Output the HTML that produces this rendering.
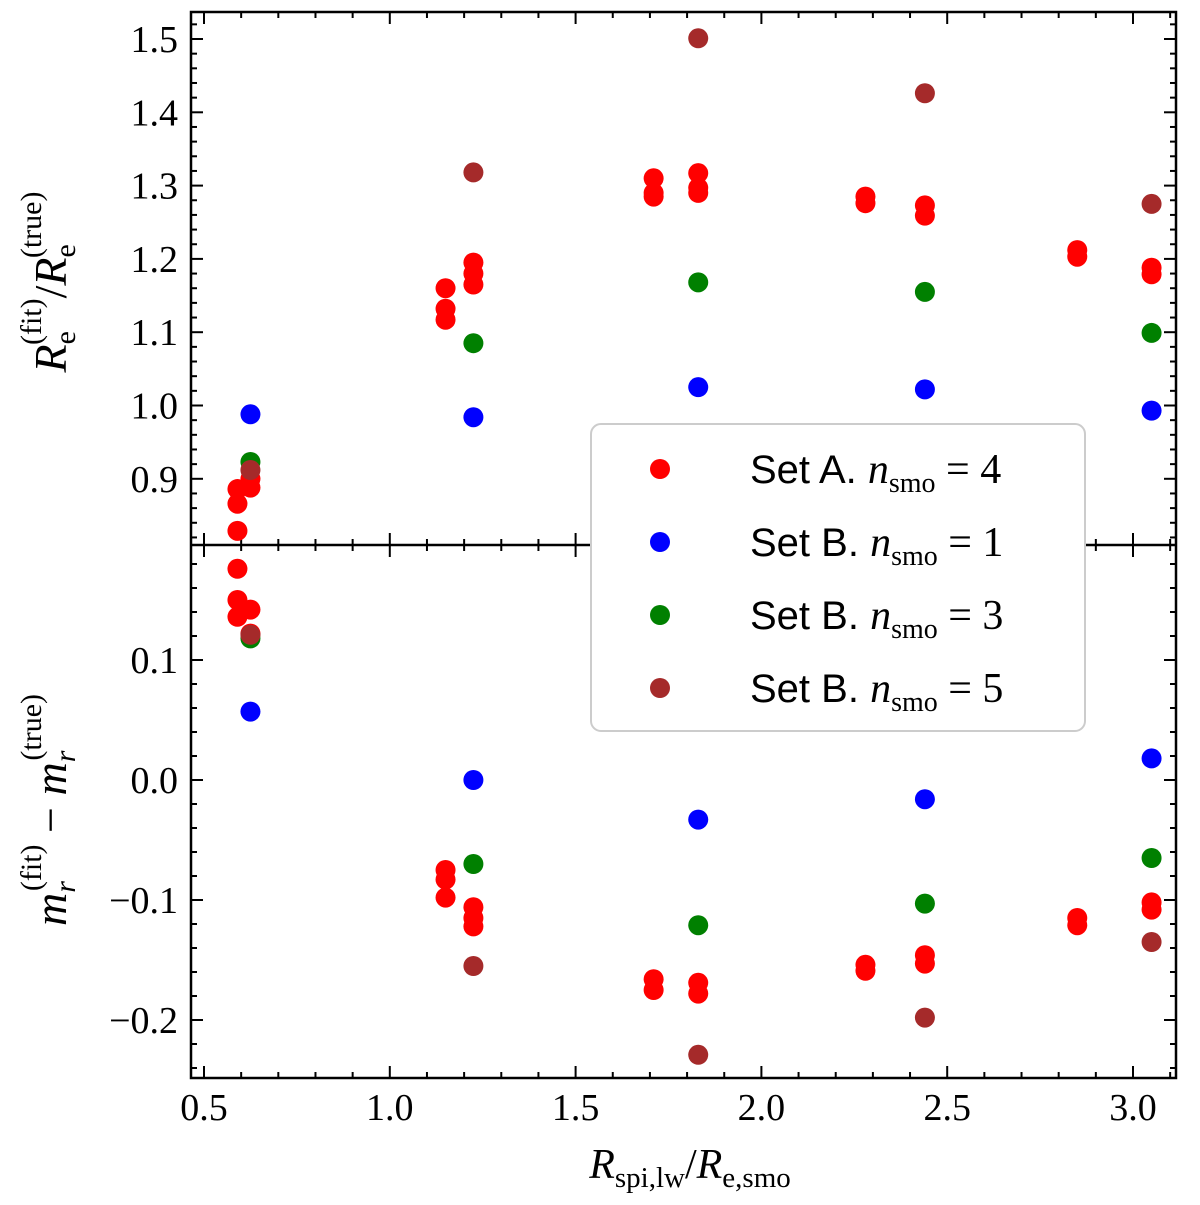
<!DOCTYPE html>
<html><head><meta charset="utf-8"><style>
body{margin:0;background:#fff}
svg text{font-family:"Liberation Serif",serif}
svg text.sans{font-family:"Liberation Sans",sans-serif}
</style></head><body>
<svg width="1200" height="1200" xmlns="http://www.w3.org/2000/svg">
<g id="plot"></g>
<g>
<rect x="591" y="424" width="494" height="307" rx="10" fill="#ffffff" stroke="#ccc" stroke-width="2"/>
<g font-size="40">
<g><circle cx="660" cy="469" r="10" fill="#ff0000"/><text class="sans" x="750" y="483">Set A. <tspan style="font-family:'Liberation Serif',serif" font-style="italic" font-size="42">n</tspan><tspan style="font-family:'Liberation Serif',serif" font-size="28" dy="9">smo</tspan><tspan style="font-family:'Liberation Serif',serif" font-size="42" dy="-9"> = 4</tspan></text></g>
<g><circle cx="660" cy="542" r="10" fill="#0000ff"/><text class="sans" x="750" y="556">Set B. <tspan style="font-family:'Liberation Serif',serif" font-style="italic" font-size="42">n</tspan><tspan style="font-family:'Liberation Serif',serif" font-size="28" dy="9">smo</tspan><tspan style="font-family:'Liberation Serif',serif" font-size="42" dy="-9"> = 1</tspan></text></g>
<g><circle cx="660" cy="615" r="10" fill="#008000"/><text class="sans" x="750" y="629">Set B. <tspan style="font-family:'Liberation Serif',serif" font-style="italic" font-size="42">n</tspan><tspan style="font-family:'Liberation Serif',serif" font-size="28" dy="9">smo</tspan><tspan style="font-family:'Liberation Serif',serif" font-size="42" dy="-9"> = 3</tspan></text></g>
<g><circle cx="660" cy="688" r="10" fill="#a52a2a"/><text class="sans" x="750" y="702">Set B. <tspan style="font-family:'Liberation Serif',serif" font-style="italic" font-size="42">n</tspan><tspan style="font-family:'Liberation Serif',serif" font-size="28" dy="9">smo</tspan><tspan style="font-family:'Liberation Serif',serif" font-size="42" dy="-9"> = 5</tspan></text></g>
</g></g>
<text x="690" y="1178" font-size="42" text-anchor="middle"><tspan font-style="italic">R</tspan><tspan font-size="29" dy="9">spi,lw</tspan><tspan dy="-9">/</tspan><tspan font-style="italic">R</tspan><tspan font-size="29" dy="9">e,smo</tspan></text>
<text transform="translate(66,282) rotate(-90)" font-size="46" text-anchor="middle"><tspan font-style="italic">R</tspan><tspan font-size="30" dy="9">e</tspan><tspan font-size="30" dx="-14" dy="-34">(fit)</tspan><tspan dy="25">/</tspan><tspan font-style="italic">R</tspan><tspan font-size="30" dy="9">e</tspan><tspan font-size="30" dx="-14" dy="-34">(true)</tspan></text>
<text transform="translate(66,810) rotate(-90)" font-size="46" text-anchor="middle"><tspan font-style="italic">m</tspan><tspan font-size="30" font-style="italic" dy="9">r</tspan><tspan font-size="30" dx="-10" dy="-34">(fit)</tspan><tspan dy="25"> − </tspan><tspan font-style="italic">m</tspan><tspan font-size="30" font-style="italic" dy="9">r</tspan><tspan font-size="30" dx="-10" dy="-34">(true)</tspan></text>
</svg>
<script>
const xA=[0.59,0.59,0.59,0.625,0.625,1.15,1.15,1.15,1.225,1.225,1.225,1.71,1.71,1.71,1.83,1.83,1.83,2.28,2.28,2.44,2.44,2.85,2.85,3.05,3.05];
const topA=[0.886,0.866,0.829,0.888,0.9,1.160,1.132,1.117,1.195,1.180,1.165,1.31,1.29,1.285,1.317,1.297,1.29,1.285,1.276,1.273,1.259,1.212,1.203,1.188,1.179];
const xAb=[0.59,0.59,0.59,0.625,0.625,1.15,1.15,1.15,1.225,1.225,1.225,1.71,1.71,1.83,1.83,2.28,2.28,2.44,2.44,2.85,2.85,3.05,3.05];
const botA=[0.176,0.150,0.136,0.142,0.122,-0.075,-0.083,-0.098,-0.106,-0.115,-0.122,-0.166,-0.175,-0.169,-0.178,-0.154,-0.159,-0.146,-0.153,-0.115,-0.121,-0.102,-0.108];
const xB=[0.625,1.225,1.83,2.44,3.05];
const topB1=[0.988,0.984,1.025,1.022,0.993];
const topB3=[0.923,1.085,1.168,1.155,1.099];
const topB5=[0.912,1.318,1.501,1.426,1.275];
const botB1=[0.057,0.0,-0.033,-0.016,0.018];
const botB3=[0.118,-0.070,-0.121,-0.103,-0.065];
const botB5=[0.121,-0.155,-0.229,-0.198,-0.135];
const xTicks=[0.5,1.0,1.5,2.0,2.5,3.0];
const topTicks=[0.9,1.0,1.1,1.2,1.3,1.4,1.5];
const botTicks=[-0.2,-0.1,0.0,0.1];

const NS="http://www.w3.org/2000/svg", svg=document.getElementById('plot');
const L=191,R=1176,T=12,M=545,B=1078,LG0=591,LG1=1085;
const X=v=>204+(v-0.5)*371.6;
const YT=v=>39+(1.5-v)*733;
const YB=v=>780-v*1200;
function el(t,a,p){const e=document.createElementNS(NS,t);for(const k in a)e.setAttribute(k,a[k]);(p||svg).appendChild(e);return e;}
function ln(x1,y1,x2,y2,w){return el('line',{x1,y1,x2,y2,stroke:'#000','stroke-width':w||2});}
for(let v=0.5;v<=3.15;v+=0.1){const x=X(v),maj=Math.abs(v*2-Math.round(v*2))<1e-6,l=maj?12:6;
 ln(x,B,x,B-l);ln(x,T,x,T+l);
 if(x<LG0-2||x>LG1+2){ln(x,M,x,M-l);ln(x,M,x,M+l);}}
for(let v=0.82;v<=1.53;v+=0.02){const y=YT(v),maj=Math.abs(v*10-Math.round(v*10))<1e-6,l=maj?12:6;ln(L,y,L+l,y);ln(R,y,R-l,y);}
for(let v=-0.24;v<=0.19;v+=0.02){const y=YB(v),maj=Math.abs(v*10-Math.round(v*10))<1e-6,l=maj?12:6;ln(L,y,L+l,y);ln(R,y,R-l,y);}
el('rect',{x:L,y:T,width:R-L,height:B-T,fill:'none',stroke:'#000','stroke-width':2.5});
ln(L,M,LG0,M,2.5);ln(LG1,M,R,M,2.5);
xTicks.forEach(v=>{const t=el('text',{x:X(v),y:1120,'font-size':38,'text-anchor':'middle'});t.textContent=v.toFixed(1);

});
topTicks.forEach(v=>{const t=el('text',{x:178,y:YT(v)+13,'font-size':38,'text-anchor':'end'});t.textContent=v.toFixed(1);

});
botTicks.forEach(v=>{const t=el('text',{x:178,y:YB(v)+13,'font-size':38,'text-anchor':'end'});t.textContent=(v<0?'\u2212':'')+Math.abs(v).toFixed(1);

});
function pts(xs,ys,Y,col,name){xs.forEach((x,i)=>{const c=el('circle',{cx:X(x),cy:Y(ys[i]),r:10,fill:col});

});}
pts(xA,topA,YT,'#ff0000','top-set-a-point');
pts(xB,topB1,YT,'#0000ff','top-set-b1-point');
pts(xB,topB3,YT,'#008000','top-set-b3-point');
pts(xB,topB5,YT,'#a52a2a','top-set-b5-point');
pts(xAb,botA,YB,'#ff0000','bottom-set-a-point');
pts(xB,botB1,YB,'#0000ff','bottom-set-b1-point');
pts(xB,botB3,YB,'#008000','bottom-set-b3-point');
pts(xB,botB5,YB,'#a52a2a','bottom-set-b5-point');
</script>
</body></html>
